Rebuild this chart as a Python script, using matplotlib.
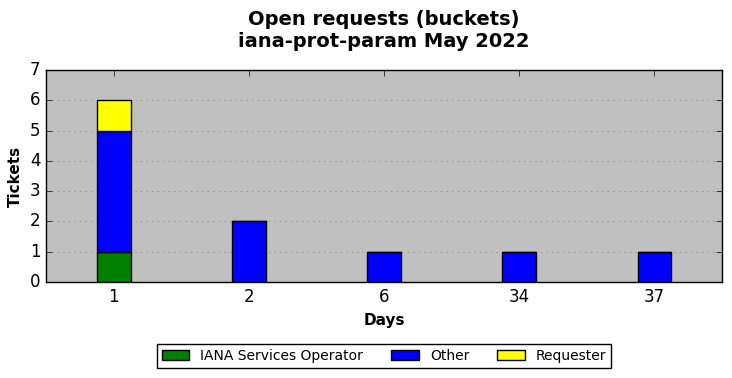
import matplotlib
matplotlib.use("Agg")
import matplotlib.pyplot as plt
import numpy as np

plt.style.use('classic')

# bucket labels (days open) and ticket counts per requester type
days = ["1", "2", "6", "34", "37"]
iana_ops = [1, 0, 0, 0, 0]
other = [4, 2, 1, 1, 1]
requester = [1, 0, 0, 0, 0]

x = np.arange(len(days))
w = 0.25
iana_ops = np.array(iana_ops)
other = np.array(other)
requester = np.array(requester)

fig = plt.figure(figsize=(7.32, 3.78), dpi=100, facecolor='white')
ax = fig.add_axes([46/732, 1 - 282/378, 676/732, 212/378])
ax.set_facecolor('#c0c0c0')

ax.bar(x, iana_ops, w, align='center', color='green', edgecolor='black', label='IANA Services Operator')
ax.bar(x, other, w, bottom=iana_ops, align='center', color='blue', edgecolor='black', label='Other')
ax.bar(x, requester, w, bottom=iana_ops + other, align='center', color='yellow', edgecolor='black', label='Requester')

ax.set_xlim(-0.5, len(days) - 0.5)
ax.set_ylim(0, 7)
ax.set_xticks(x)
ax.set_xticklabels(days)
ax.set_yticks(range(8))
ax.yaxis.grid(True, linestyle=':', color='#808080')
ax.set_axisbelow(True)
ax.tick_params(labelsize=12)

ax.set_xlabel('Days', fontsize=11, fontweight='bold')
ax.set_ylabel('Tickets', fontsize=11, fontweight='bold')
ax.set_title('Open requests (buckets)\niana-prot-param May 2022', fontsize=14, fontweight='bold', y=1.078)

ax.legend(loc='upper center', bbox_to_anchor=(0.5, -0.26), ncol=3, fontsize=10,
          frameon=True, fancybox=False, handlelength=2, handleheight=0.7, borderpad=0.35,
          columnspacing=2.0)

fig.savefig('out.png', dpi=100, facecolor='white')
